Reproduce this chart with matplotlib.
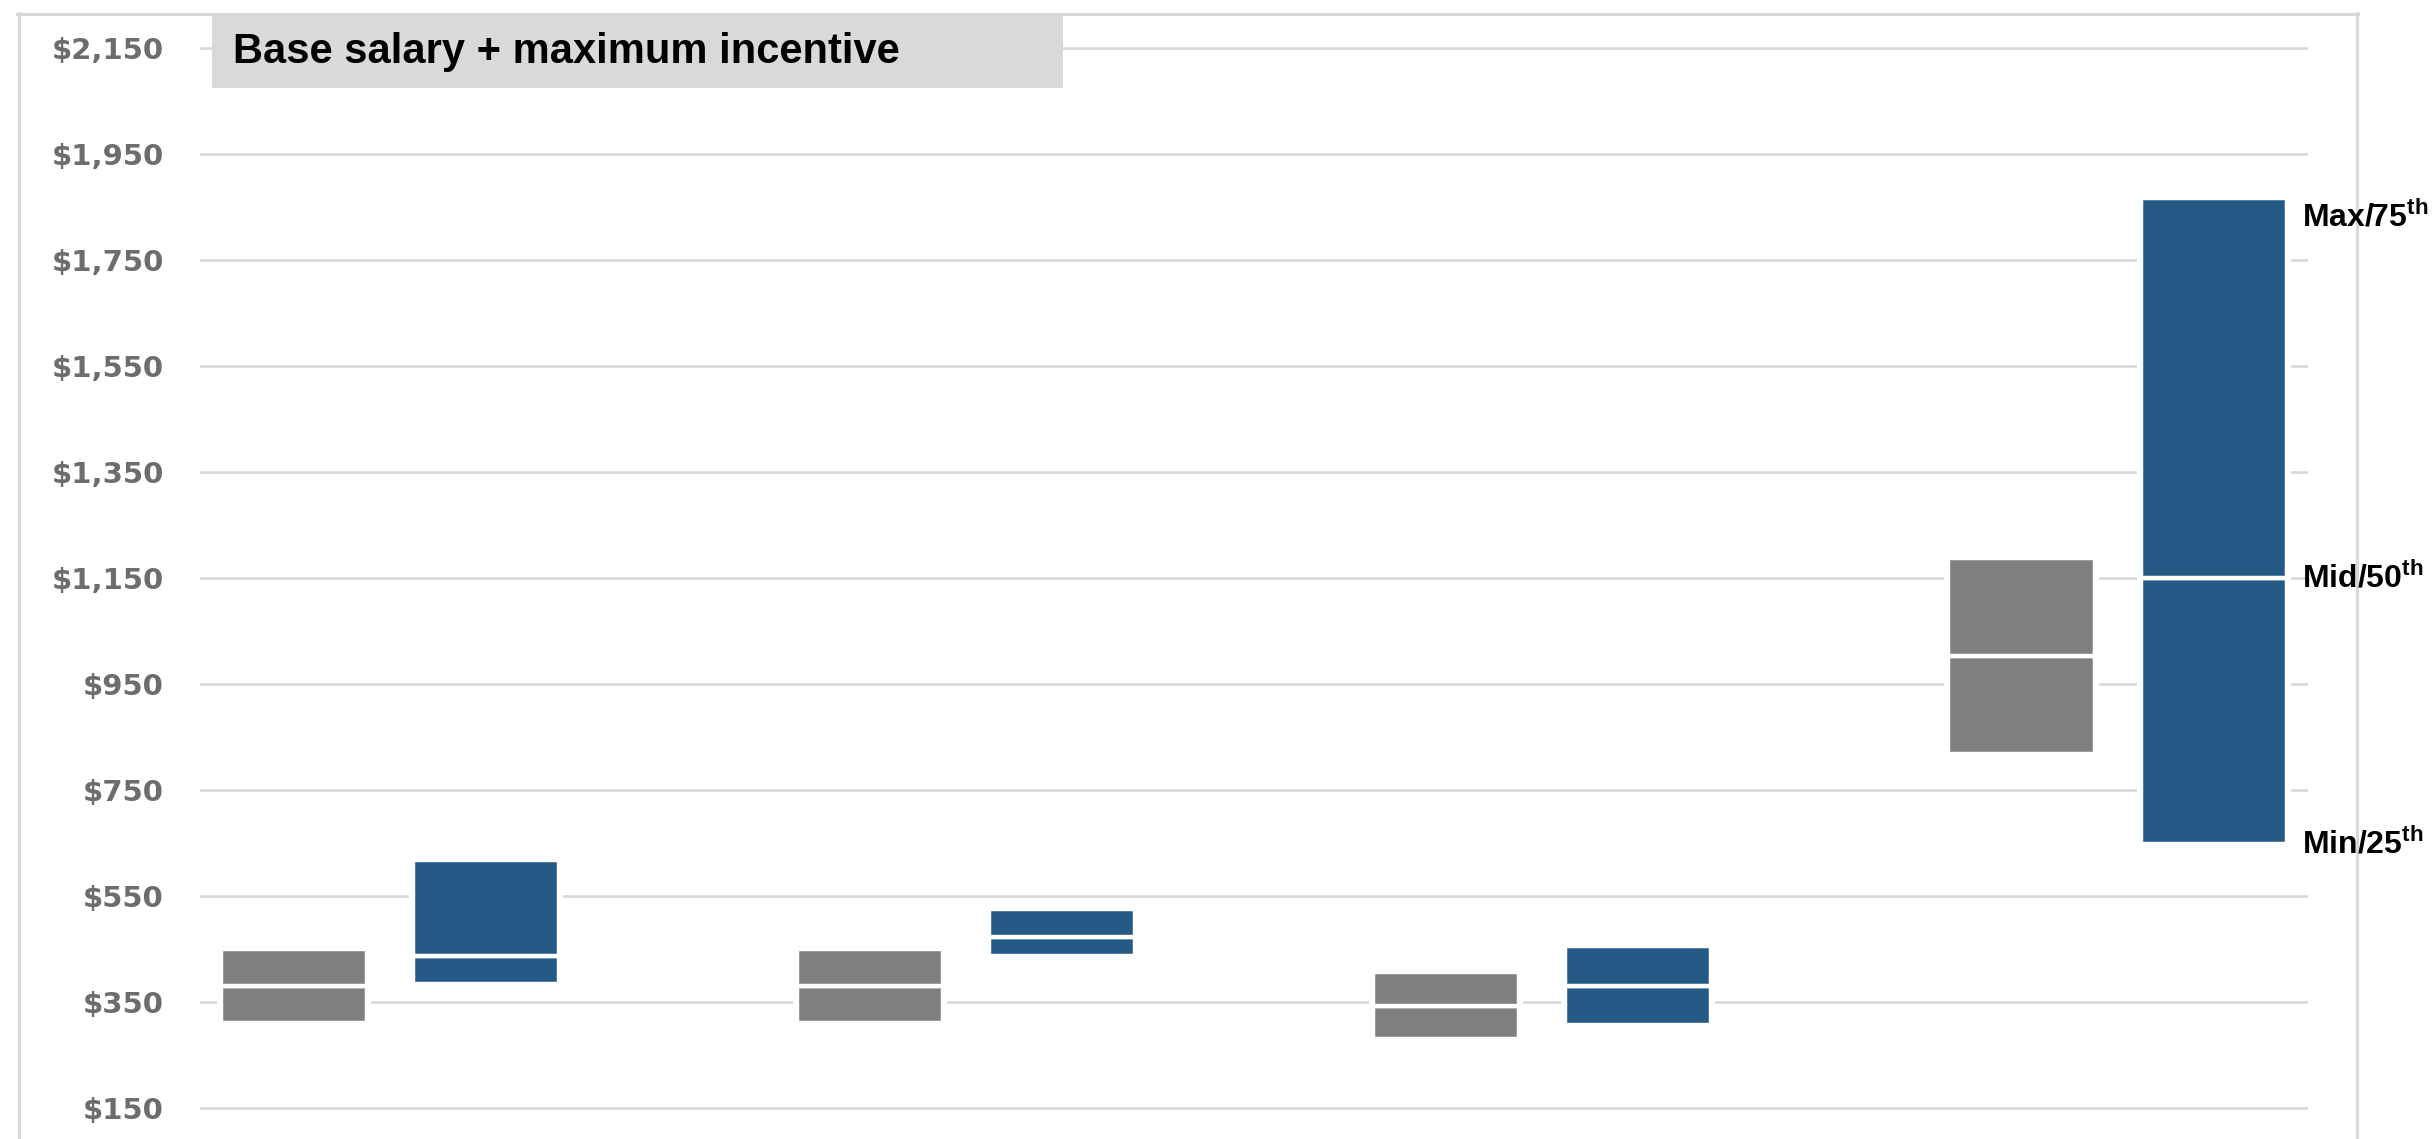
import matplotlib.pyplot as plt
from matplotlib.patches import Rectangle
from matplotlib.lines import Line2D
import numpy as np

plt.rcParams['mathtext.fontset'] = 'custom'
plt.rcParams['mathtext.bf'] = 'Liberation Sans:bold'
plt.rcParams['mathtext.rm'] = 'Liberation Sans:bold'

# range data (min, mid, max) per category
gray_min = [312, 312, 281, 818]
gray_mid = [381, 381, 344, 1003]
gray_max = [450, 450, 407, 1188]

blue_min = [384, 438, 307, 648]
blue_mid = [438, 473, 381, 1151]
blue_max = [619, 527, 456, 1868]

yticks = [150, 350, 550, 750, 950, 1150, 1350, 1550, 1750, 1950, 2150]
ytick_labels = ['$' + f'{v:,}' for v in yticks]
range_labels = [r'Max/75$^{\mathbf{th}}$', r'Mid/50$^{\mathbf{th}}$', r'Min/25$^{\mathbf{th}}$']
title = 'Base salary + maximum incentive'

GRAY = '#7f7f7f'
BLUE = '#255a87'
GRID = '#d9d9d9'

W, H = 2434, 1139
fig = plt.figure(figsize=(W / 100, H / 100), dpi=100)
ax = fig.add_axes([200 / W, 1 - 1119 / H, 2108 / W, (1119 - 32.4) / H])
ax.patch.set_visible(False)

x = np.arange(len(gray_min))
off = 0.1667
bw = 0.255

for pos, lo, mid, hi, col in [(x - off, gray_min, gray_mid, gray_max, GRAY),
                              (x + off, blue_min, blue_mid, blue_max, BLUE)]:
    lo, mid, hi = np.array(lo), np.array(mid), np.array(hi)
    # white pad that cuts the gridlines around each bar
    ax.bar(pos, hi - lo, bw, bottom=lo, color='white', edgecolor='white',
           linewidth=5.8, zorder=2)
    ax.bar(pos, mid - lo, bw, bottom=lo, color=col, edgecolor='white',
           linewidth=3.2, zorder=3)
    ax.bar(pos, hi - mid, bw, bottom=mid, color=col, edgecolor='white',
           linewidth=3.2, zorder=3)

ax.set_xlim(-0.3299, 3.330)
ax.set_ylim(130, 2180)
ax.set_yticks(yticks)
ax.set_yticklabels(ytick_labels, fontsize=21, fontweight='bold',
                   color='#6d6d6d', family='DejaVu Sans')
ax.tick_params(axis='y', length=0, pad=26)
ax.set_xticks([])
ax.grid(axis='y', color=GRID, linewidth=2.0, zorder=0)
ax.set_axisbelow(True)
for s in ax.spines.values():
    s.set_visible(False)

# range labels next to the last blue bar
i = len(blue_max) - 1
xr = x[i] + off + bw / 2
for lab, yv, va in zip(range_labels, [blue_max[i], blue_mid[i], blue_min[i]],
                       ['top', 'center', 'center']):
    ax.annotate(lab, (xr, yv), xytext=(10.5, -2 if va == 'top' else 0),
                textcoords='offset points', ha='left', va=va,
                fontsize=23, fontweight='bold', family='Liberation Sans',
                annotation_clip=False, zorder=10)

# chart frame, drawn beneath the axes content
def fx(px):
    return px / W

def fy(py):
    return 1 - py / H

for xs, ys in [([19, 19], [13, H + 5]), ([17, 2358], [14, 14]), ([2357, 2357], [13, H + 5])]:
    fig.add_artist(Line2D([fx(v) for v in xs], [fy(v) for v in ys],
                          color=GRID, lw=2.2, zorder=-1))

# title box
fig.add_artist(Rectangle((fx(212), fy(88)), (1063 - 212) / W, (88 - 13) / H,
                         transform=fig.transFigure, facecolor=GRID,
                         edgecolor='none', zorder=5))
fig.text(fx(233), fy(63), title, fontsize=30, fontweight='bold',
         family='Liberation Sans', va='baseline', ha='left', zorder=6)

fig.savefig('out.png', dpi=100, facecolor='white')
